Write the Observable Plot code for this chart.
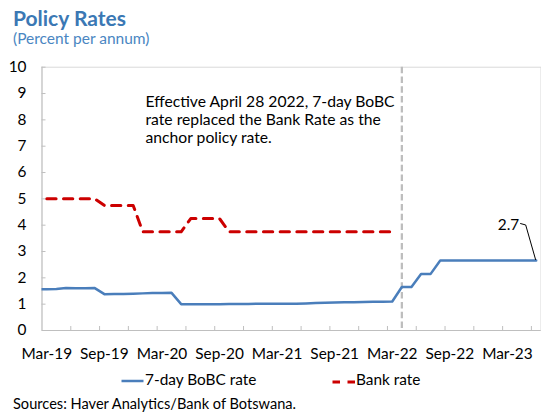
<!DOCTYPE html>
<html><head><meta charset="utf-8">
<script src="https://cdn.jsdelivr.net/npm/d3@7"></script>
<script src="https://cdn.jsdelivr.net/npm/@observablehq/plot@0.6"></script>
<style>
body{margin:0;background:#fff;font-family:Lato,"Noto Sans",sans-serif;}
#wrap{position:relative;width:541px;height:420px;overflow:hidden;background:#fff;}
.abs{position:absolute;white-space:nowrap;line-height:1;color:#000;}
#title{left:13px;top:6.5px;font-size:21px;font-weight:700;color:#3B78B4;}
#subtitle{left:13px;top:30.5px;font-size:15.5px;color:#4A86C2;}
#chart{position:absolute;left:0;top:56px;}
.leg{font-size:15.4px;top:372.3px;}
.sw{position:absolute;}
#source{left:13px;top:397px;font-size:14.6px;}
</style></head><body>
<div id="wrap">
  <div id="title" class="abs"></div>
  <div id="subtitle" class="abs"></div>
  <div id="chart"></div>
  <svg class="sw" style="left:121px;top:378px" width="24" height="6"><line x1="0.5" x2="22.5" y1="3" y2="3" stroke="#4A7EBB" stroke-width="2.5"/></svg>
  <div id="leg1" class="abs leg" style="left:145px"></div>
  <svg class="sw" style="left:332px;top:378.5px" width="24" height="6"><line x1="0.5" x2="23" y1="3" y2="3" stroke="#CC0000" stroke-width="3" stroke-dasharray="7.5,7.5"/></svg>
  <div id="leg2" class="abs leg" style="left:356px"></div>
  <div id="source" class="abs"></div>
</div>
<script>
// ---- text ----
const titleText = "Policy Rates";
const subtitleText = "(Percent per annum)";
const seriesNames = ["7-day BoBC rate", "Bank rate"];
const sourceText = "Sources: Haver Analytics/Bank of Botswana.";
const annotationLines = [
  "Effective April 28 2022, 7-day BoBC",
  "rate replaced the Bank Rate as the",
  "anchor policy rate."
];

// ---- axis ----
const firstMonth = "2019-03";           // first month slot on the axis
const monthCount = 52;                  // Mar-19 .. Jun-23
const xTickLabels = ["Mar-19","Sep-19","Mar-20","Sep-20","Mar-21","Sep-21","Mar-22","Sep-22","Mar-23"];
const yTicks = [0,1,2,3,4,5,6,7,8,9,10];
const anchorChangeMonth = "2022-04";

// ---- series (monthly) ----
const bobcStart = "2019-02";
const bobcRate = [
  1.57,
  1.57,1.58,1.61,1.60,1.60,1.61,1.38,1.39,1.39,1.40,
  1.41,1.42,1.42,1.43,1.00,1.00,1.00,1.00,1.00,1.01,1.01,1.01,
  1.02,1.02,1.02,1.02,1.02,1.03,1.04,1.05,1.06,1.07,1.07,1.08,
  1.09,1.09,1.10,1.65,1.65,2.15,2.15,2.66,2.66,2.66,2.66,2.66,
  2.66,2.66,2.66,2.66,2.66,2.66
];
const bankStart = "2019-03";
const bankRate = [
  5.00,5.00,5.00,5.00,5.00,5.00,4.75,4.75,4.75,4.75,
  3.75,3.75,3.75,3.75,3.75,4.25,4.25,4.25,4.25,3.75,3.75,3.75,
  3.75,3.75,3.75,3.75,3.75,3.75,3.75,3.75,3.75,3.75,3.75,3.75,
  3.75,3.75,3.75
];

// ---- helpers ----
const parseM = d3.utcParse("%Y-%m");
const base = parseM(firstMonth);
const monthIndex = s => d3.utcMonth.count(base, parseM(s));
const toRows = (start, vals) => {
  const s = monthIndex(start);
  return vals.map((v, i) => ({x: s + i, v}));
};
const bobc = toRows(bobcStart, bobcRate);
const bank = toRows(bankStart, bankRate);
const last = bobc[bobc.length - 1];
const labelIdx = xTickLabels.map(l => monthIndex(d3.utcFormat("%Y-%m")(d3.utcParse("%b-%y")(l))));
const tickIdx = d3.range(1, 18).map(k => 3 * k - 0.5);

document.getElementById("title").textContent = titleText;
document.getElementById("subtitle").textContent = subtitleText;
document.getElementById("leg1").textContent = seriesNames[0];
document.getElementById("leg2").textContent = seriesNames[1];
document.getElementById("source").textContent = sourceText;

const W = 541, H = 310, mL = 41.5, mR = 0.5, mT = 10.7, mB = 36;
const plotW = W - mL - mR, plotH = H - mT - mB;

function leader(index, scales) {
  const px = scales.x(last.x), py = scales.y(last.v);
  const p = document.createElementNS("http://www.w3.org/2000/svg", "path");
  p.setAttribute("d", `M${px-15.5},${py-36.5}L${px-10},${py-35}L${px},${py}`);
  p.setAttribute("fill", "none");
  p.setAttribute("stroke", "#000");
  p.setAttribute("stroke-width", "1");
  return p;
}

const chart = Plot.plot({
  width: W, height: H,
  marginLeft: mL, marginRight: mR, marginTop: mT, marginBottom: mB,
  style: {fontFamily: "Lato, 'Noto Sans', sans-serif", fontSize: "15.4px", color: "#000", background: "transparent", overflow: "visible"},
  x: {domain: [-0.5, monthCount - 0.5], axis: null},
  y: {domain: [0, 10], axis: null},
  marks: [
    Plot.frame({stroke: "#D9D9D9"}),
    Plot.ruleY([0], {stroke: "#BFBFBF"}),
    Plot.ruleX([-0.5], {stroke: "#BFBFBF"}),
    Plot.ruleY(yTicks.slice(1), {y: d => d, insetRight: plotW - 4, stroke: "#BFBFBF"}),
    Plot.ruleX(tickIdx, {x: d => d, insetTop: plotH - 4, stroke: "#BFBFBF"}),
    Plot.axisY({ticks: yTicks, tickSize: 0, tickPadding: 15.5, fill: "#000", label: null}),
    Plot.axisX({ticks: labelIdx, tickSize: 0, tickPadding: 18, fill: "#000", label: null,
      tickFormat: d => xTickLabels[labelIdx.indexOf(d)]}),
    Plot.ruleX([monthIndex(anchorChangeMonth)], {x: d => d, stroke: "#BDBDBD", strokeWidth: 2.25, strokeDasharray: "6.5,3.3"}),
    Plot.line(bank, {x: "x", y: "v", stroke: "#CC0000", strokeWidth: 3, strokeDasharray: "9.3,7.4"}),
    Plot.line(bobc, {x: "x", y: "v", stroke: "#4A7EBB", strokeWidth: 2.5, clip: true}),
    Plot.text([annotationLines.join("\n")], {frameAnchor: "top-left", dx: 103.5, dy: 27, fontSize: 15.7,
      textAnchor: "start", lineAnchor: "top", lineHeight: 1.15, fill: "#000"}),
    leader,
    Plot.text([last], {x: "x", y: "v", text: d => d.v.toFixed(1), dx: -17, dy: -35, textAnchor: "end", fill: "#000"})
  ]
});
document.getElementById("chart").appendChild(chart);
</script>
</body></html>
